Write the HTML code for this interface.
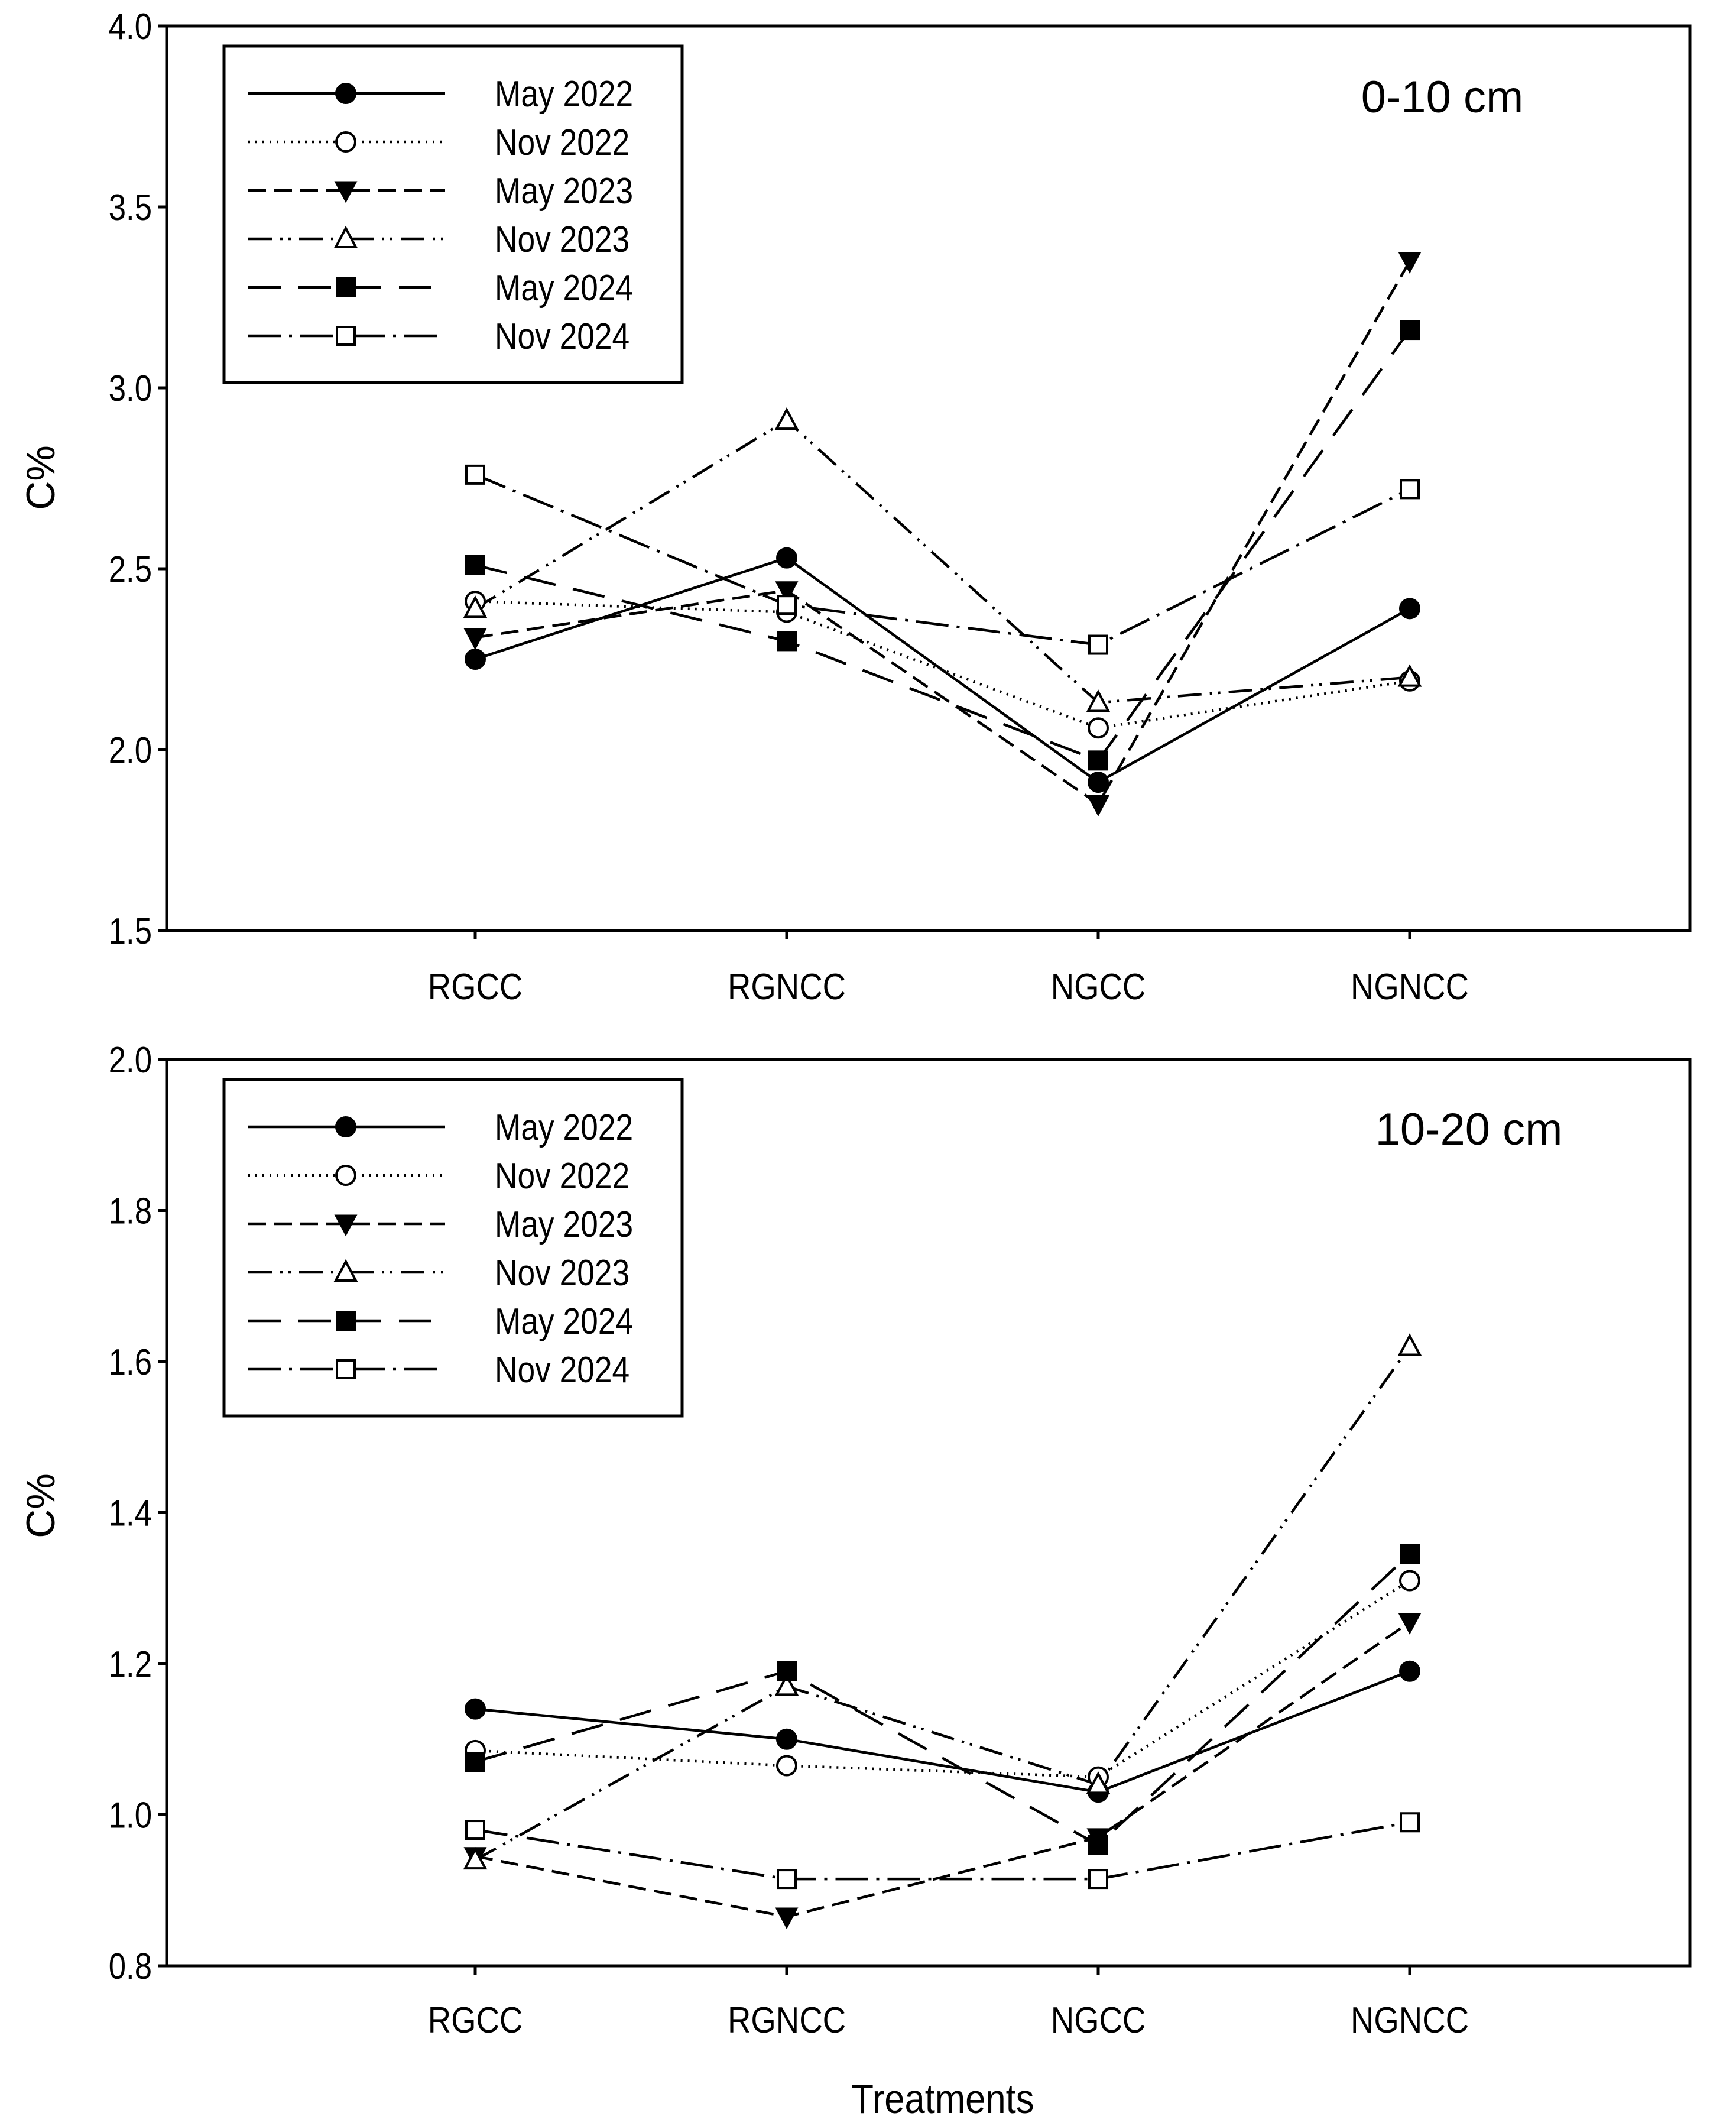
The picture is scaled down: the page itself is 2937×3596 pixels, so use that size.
<!DOCTYPE html>
<html><head><meta charset="utf-8"><style>
html,body{margin:0;padding:0;background:#fff;}
svg{display:block;font-family:"Liberation Sans",sans-serif;}
</style></head><body>
<svg id="chart" width="2937" height="3596" viewBox="0 0 2937 3596" xmlns="http://www.w3.org/2000/svg"></svg>
<script>
const categories = ["RGCC","RGNCC","NGCC","NGNCC"];
const seriesNames = ["May 2022","Nov 2022","May 2023","Nov 2023","May 2024","Nov 2024"];
const top_may2022 = [2.25, 2.53, 1.91, 2.39];
const top_nov2022 = [2.41, 2.38, 2.06, 2.19];
const top_may2023 = [2.31, 2.44, 1.85, 3.35];
const top_nov2023 = [2.39, 2.91, 2.13, 2.20];
const top_may2024 = [2.51, 2.30, 1.97, 3.16];
const top_nov2024 = [2.76, 2.40, 2.29, 2.72];
const bot_may2022 = [1.14, 1.10, 1.03, 1.19];
const bot_nov2022 = [1.085, 1.065, 1.05, 1.31];
const bot_may2023 = [0.945, 0.865, 0.97, 1.255];
const bot_nov2023 = [0.94, 1.17, 1.04, 1.62];
const bot_may2024 = [1.07, 1.19, 0.96, 1.345];
const bot_nov2024 = [0.98, 0.915, 0.915, 0.99];
const topTicks = ["1.5","2.0","2.5","3.0","3.5","4.0"];
const botTicks = ["0.8","1.0","1.2","1.4","1.6","1.8","2.0"];

const NS="http://www.w3.org/2000/svg";
const svg=document.getElementById('chart');
function mk(tag,attrs,parent){const e=document.createElementNS(NS,tag);for(const k in attrs)e.setAttribute(k,attrs[k]);(parent||svg).appendChild(e);return e;}
const styles=[
 {dash:"",marker:"circle",fill:"#000"},
 {dash:"3 9",marker:"circle",fill:"#fff"},
 {dash:"30 14",marker:"tdown",fill:"#000"},
 {dash:"40 14 4 10 4 14",marker:"tup",fill:"#fff"},
 {dash:"55 30",marker:"square",fill:"#000"},
 {dash:"55 14 5 14",marker:"square",fill:"#fff"}
];
function marker(g,type,x,y,fill){
 let e;
 if(type==="circle"){e=mk('circle',{cx:x,cy:y,r:16,fill:fill,stroke:'#000','stroke-width':4},g);}
 else if(type==="square"){e=mk('rect',{x:x-15,y:y-15,width:30,height:30,fill:fill,stroke:'#000','stroke-width':4},g);}
 else if(type==="tdown"){e=mk('polygon',{points:`${x-17},${y-14} ${x+17},${y-14} ${x},${y+18}`,fill:fill,stroke:'#000','stroke-width':3},g);}
 else {e=mk('polygon',{points:`${x-17},${y+14} ${x+17},${y+14} ${x},${y-18}`,fill:fill,stroke:'#000','stroke-width':4},g);}
 
 
}
const catX=i=>804+i*527;
function panel(name,top,bottom,ymin,ymax,ticks,data,label,labelX,labelY,legTop,ylabelY,catY){
 const left=282,right=2859;
 const ys=v=>bottom-(v-ymin)/(ymax-ymin)*(bottom-top);
 const g=mk('g',{});
 
 
 const fr=mk('rect',{x:left,y:top,width:right-left,height:bottom-top,fill:'none',stroke:'#000','stroke-width':5},g);
 
 
 ticks.forEach(t=>{const y=ys(parseFloat(t));
  const l=mk('line',{x1:left-15,x2:left,y1:y,y2:y,stroke:'#000','stroke-width':5},g);
  
  
  const tx=mk('text',{x:(left-25)/0.85,y:y+22,'font-size':62,'text-anchor':'end',transform:'scale(0.85,1)'},g);
  
  
  tx.textContent=t;});
 categories.forEach((c,i)=>{const x=catX(i);
  const l=mk('line',{x1:x,x2:x,y1:bottom,y2:bottom+15,stroke:'#000','stroke-width':5},g);
  
  
  const tx=mk('text',{x:x/0.88,y:catY,'font-size':62,'text-anchor':'middle',transform:'scale(0.88,1)'},g);
  
  
  tx.textContent=c;});
 const yl=mk('text',{x:0,y:0,'font-size':68,'text-anchor':'middle',transform:`translate(92,${ylabelY}) rotate(-90)`},g);
 
 
 yl.textContent='C%';
 const dl=mk('text',{x:labelX,y:labelY,'font-size':76,'text-anchor':'middle'},g);
 
 
 dl.textContent=label;
 data.forEach((arr,s)=>{const st=styles[s];
  const pts=arr.map((v,i)=>catX(i)+','+ys(v)).join(' ');
  const pl=mk('polyline',{points:pts,fill:'none',stroke:'#000','stroke-width':4.5,'stroke-dasharray':st.dash},g);
  
  });
 data.forEach((arr,s)=>{arr.forEach((v,i)=>marker(g,styles[s].marker,catX(i),ys(v),styles[s].fill));});
 const lg=mk('g',{},g);
 
 
 const lb=mk('rect',{x:379,y:legTop,width:775,height:569,fill:'#fff',stroke:'#000','stroke-width':5},lg);
 
 
 seriesNames.forEach((n,s)=>{const y=legTop+80+s*82;const st=styles[s];
  const l=mk('line',{x1:420,x2:753,y1:y,y2:y,stroke:'#000','stroke-width':4.5,'stroke-dasharray':st.dash},lg);
  
  
  marker(lg,st.marker,585,y,st.fill);
  const t=mk('text',{x:837/0.86,y:y+22,'font-size':62,transform:'scale(0.86,1)'},lg);
  
  
  t.textContent=n;});
}
panel('top-panel',44,1574,1.5,4.0,topTicks,[top_may2022,top_nov2022,top_may2023,top_nov2023,top_may2024,top_nov2024],'0-10 cm',2440,190,78,808,1690);
panel('bottom-panel',1792,3325,0.8,2.0,botTicks,[bot_may2022,bot_nov2022,bot_may2023,bot_nov2023,bot_may2024,bot_nov2024],'10-20 cm',2485,1936,1826,2547,3438);
const xt=mk('text',{x:1595/0.88,y:3574,'font-size':70,'text-anchor':'middle',transform:'scale(0.88,1)'});


xt.textContent='Treatments';
</script>
</body></html>
